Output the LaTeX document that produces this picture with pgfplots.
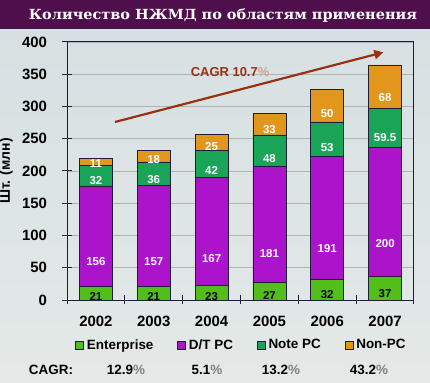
\documentclass[border=0pt]{standalone}
\usepackage{fontspec}
\setmainfont{Liberation Sans}
\newfontfamily\titlefont{DejaVu Serif}
\usepackage{pgfplots}
\usepackage{pgfplotstable}
\pgfplotsset{compat=1.18}
\usetikzlibrary{arrows.meta}
\definecolor{bgtop}{HTML}{D6E0E2}
\definecolor{bgbot}{HTML}{E4E9E7}
\definecolor{titlebg}{HTML}{4E0F4C}
\definecolor{ent}{HTML}{52BE1A}
\definecolor{dtpc}{HTML}{AC14CC}
\definecolor{notepc}{HTML}{1AA458}
\definecolor{nonpc}{HTML}{E2961C}
\definecolor{totc}{HTML}{2B1B5E}
\definecolor{cagrc}{HTML}{9A3010}
\definecolor{axc}{HTML}{1E1E3C}

\pgfplotstableread{
x ent dt note non tot
0 21 156 32 11 219
1 21 157 36 18 232
2 23 167 42 25 258
3 27 181 48 33 289
4 32 191 53 50 326
5 37 200 59.5 68 365
}\hdddata

\pgfplotsset{
  segment/.style 2 args={
    fill=#1, draw=axc, line width=0.6pt,
    area legend,
    legend image code/.code={\draw[##1, line width=0.5pt] (0bp,-4bp) rectangle (8bp,4bp);},
    visualization depends on={rawy \as \segv},
    nodes near coords,
    every node near coord/.append style={anchor=center, text=#2,
      font=\bfseries\fontsize{11.5}{13}\selectfont,
      yshift={-0.16125bp*\segv}},
  },
}

\begin{document}
\begin{tikzpicture}[x=1bp,y=1bp]
\path[use as bounding box] (0bp,0bp) rectangle (430bp,383bp);
\fill[top color=bgtop, bottom color=bgbot] (0bp,0bp) rectangle (430bp,355bp);
\fill[titlebg] (0bp,354bp) rectangle (430bp,383bp);
\node[anchor=base, text=white, inner sep=0pt] at (223bp,363bp)
  {\resizebox{388bp}{10.8bp}{\titlefont\bfseries Количество НЖМД по областям применения}};

\begin{axis}[
  at={(67bp,83bp)}, anchor=south west,
  scale only axis, width=347bp, height=258bp,
  ybar stacked, bar width=33bp,
  xmin=-0.5, xmax=5.5, ymin=0, ymax=400,
  xtick={-0.5,0.5,1.5,2.5,3.5,4.5,5.5},
  xticklabels={2002,2003,2004,2005,2006,2007,{}},
  xticklabel style={xshift=28.9bp, yshift=-8bp, font=\bfseries\fontsize{15}{18}\selectfont},
  ytick={0,50,...,400},
  yticklabel style={font=\bfseries\fontsize{15}{18}\selectfont, xshift=-12bp},
  /pgf/number format/assume math mode=true,
  tick align=center, major tick length=9bp,
  tick style={axc, line width=1pt},
  tick pos=left,
  ymajorgrids, grid style={gray!60, line width=0.6pt},
  axis line style={axc, line width=1pt},
  ylabel={Шт. (млн)},
  ylabel style={at={(axis description cs:-0.175,0.5)}, anchor=center,
    font=\bfseries\fontsize{14}{16}\selectfont},
  legend style={at={(axis description cs:0.503,-0.174)}, anchor=center,
    draw=none, fill=none, legend columns=4,
    font=\bfseries\fontsize{13.5}{15}\selectfont,
    /tikz/every even column/.append style={column sep=22bp},
    /tikz/every odd column/.append style={column sep=1bp}},
]
\addplot[segment={ent}{black}] table[x=x, y=ent] {\hdddata};
\addplot[segment={dtpc}{white}] table[x=x, y=dt] {\hdddata};
\addplot[segment={notepc}{white}] table[x=x, y=note] {\hdddata};
\addplot[segment={nonpc}{white}] table[x=x, y=non] {\hdddata};
\addplot[draw=none, fill=none, nodes near coords, point meta=explicit,
  every node near coord/.append style={anchor=south, text=totc,
    font=\bfseries\fontsize{13}{15}\selectfont, xshift=15bp, yshift=1bp}]
  table[x=x, y expr=0, meta=tot] {\hdddata};
\legend{Enterprise, D/T PC, Note PC, Non-PC}
\draw[cagrc, line width=2.2pt, -{Triangle[width=9bp,length=9bp]}]
  (axis cs:0.33,276) -- (axis cs:4.97,384);
\node[text=cagrc, font=\bfseries\fontsize{13}{15}\selectfont] at (axis cs:2.32,353)
  {CAGR 10.7{\color{cagrc!45!white}\%}};
\end{axis}

\begin{scope}[font=\bfseries\fontsize{13.5}{15}\selectfont]
\node at (51bp,13bp) {CAGR:};
\node at (126bp,13bp) {12.9{\color{gray}\%}};
\node at (207bp,13bp) {5.1{\color{gray}\%}};
\node at (281bp,13bp) {13.2{\color{gray}\%}};
\node at (369bp,13bp) {43.2{\color{gray}\%}};
\end{scope}
\end{tikzpicture}
\end{document}
